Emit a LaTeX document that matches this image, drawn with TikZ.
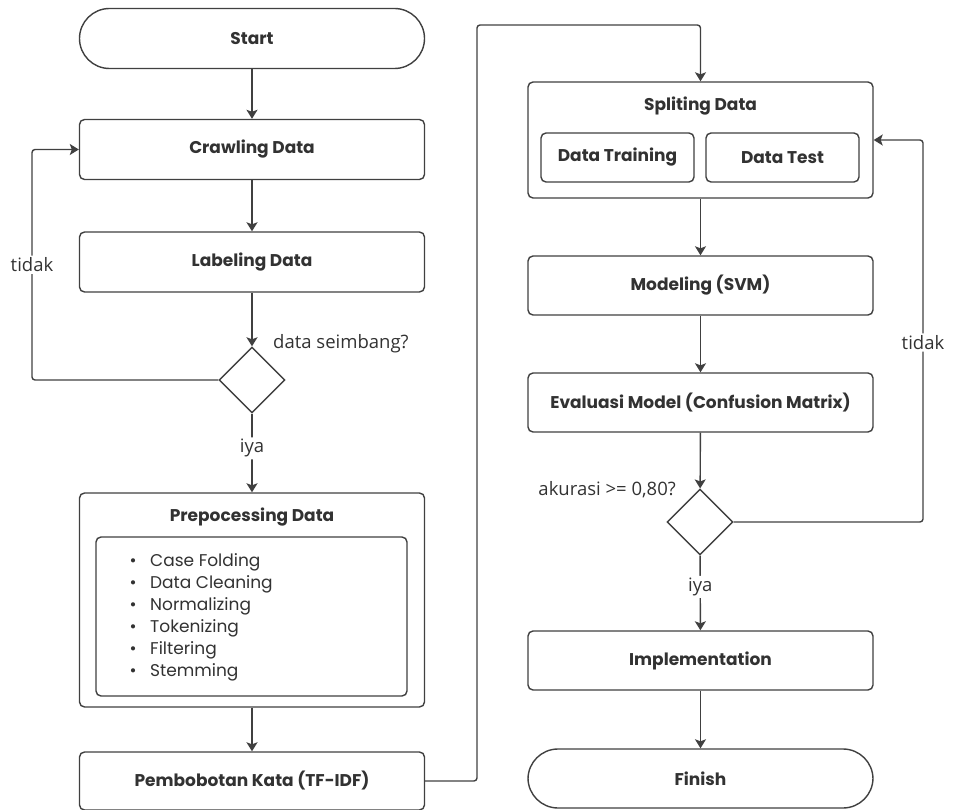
\documentclass[tikz,border=0pt]{standalone}
\usepackage{fontspec}
\setmainfont{Open Sans}
\newfontfamily\boxfont{Poppins}
\usetikzlibrary{
  arrows.meta,
  positioning,
  shapes.geometric,
}
\definecolor{cLine}{RGB}{64,64,64}
\definecolor{cText}{RGB}{50,50,50}
\newcommand{\itm}[1]{\makebox[10pt][c]{\textbullet}\hspace{12pt}#1}
\tikzset{
  % Process box
  box/.style={
    rectangle, rounded corners=5pt,
    draw=cLine, line width=1.4pt, fill=white,
    minimum width=345pt, minimum height=60pt,
    font=\boxfont\bfseries\fontsize{17}{20}\selectfont, text=cText,
    align=center, inner sep=0pt,
  },
  % Start / finish
  term/.style={
    box, rounded corners=30pt,
  },
  % Inner box
  subbox/.style={
    box, minimum width=153pt, minimum height=49pt,
  },
  % Box heading
  boxhead/.style={
    font=\boxfont\bfseries\fontsize{17}{20}\selectfont, text=cText,
  },
  % Decision
  decision/.style={
    diamond, aspect=1, draw=cLine, line width=1.4pt, fill=white,
    minimum width=66pt, minimum height=66pt, inner sep=0pt,
  },
  % Arrow
  arr/.style={-{Stealth[length=9pt, width=11pt, inset=2pt]}, draw=cLine, line width=1.4pt, rounded corners=3pt},
  % Edge label
  lab/.style={font=\fontsize{18.5}{22}\selectfont, text=cText, fill=white, inner sep=2pt},
}

\begin{document}
\begin{tikzpicture}[x=1pt, y=-1pt]
\useasboundingbox (0,0) rectangle (954,810);

% ── Left column ───────────────────────────────────────────────────────────────
\node[term]  (start) at (252,38.5) {Start};
\node[box]   (crawl) at (252,149.5) {Crawling Data};
\node[box]   (label) at (252,262) {Labeling Data};
\node[decision] (dec1) at (252,380) {};
\node[lab, fill=none, anchor=west] (q1) at (271,344) {data seimbang?};

% Preprocessing with nested list
\node[box, minimum height=214pt] (prep) at (252,600) {};
\node[boxhead] (preptitle) at (252,517) {Prepocessing Data};
\node[box, minimum width=311pt, minimum height=159pt] (steps) at (251.5,616.5) {};
\node[
  anchor=west, align=left, inner sep=0pt, text=cText,
  font=\boxfont\fontsize{17}{22}\selectfont,
] (list) at (128,617) {
  \itm{Case Folding}\\
  \itm{Data Cleaning}\\
  \itm{Normalizing}\\
  \itm{Tokenizing}\\
  \itm{Filtering}\\
  \itm{Stemming}
};

\node[box, minimum height=58pt] (tfidf) at (252,781) {Pembobotan Kata (TF-IDF)};

% ── Right column ──────────────────────────────────────────────────────────────
\node[box, minimum height=116pt] (split) at (700.5,140) {};
\node[boxhead] (splittitle) at (700.5,106) {Spliting Data};
\node[subbox] (train) at (617.5,157.5) {Data Training};
\node[subbox] (test)  at (782.5,157.5) {Data Test};

\node[box, minimum height=59pt] (model) at (700.5,285.5) {Modeling (SVM)};
\node[box, minimum height=59pt] (eval)  at (700.5,402.5) {Evaluasi Model (Confusion Matrix)};
\node[decision] (dec2) at (700,522) {};
\node[lab, fill=none, anchor=east] (q2) at (678,490) {akurasi >= 0,80?};
\node[box, minimum height=59pt] (impl)  at (700.5,660.5) {Implementation};
\node[term, minimum height=59pt] (finish) at (700.5,778.5) {Finish};

% ── Connectors ────────────────────────────────────────────────────────────────
\coordinate (backL) at (32,0);
\coordinate (jump)  at (477,25);
\coordinate (backR) at (923,0);

\draw[arr] (start) -- (crawl);
\draw[arr] (crawl) -- (label);
\draw[arr] (label) -- (dec1);
\draw[arr] (dec1) -- node[lab, pos=0.44]{iya} (prep);
\draw[arr] (dec1.west) -- (backL |- dec1.west)
  -- node[lab]{tidak} (backL |- crawl.west) -- (crawl.west);
\draw[arr] (prep) -- (tfidf);
\draw[arr] (tfidf.east) -- (jump |- tfidf.east) -- (jump) -- (jump -| split.north) -- (split.north);

\draw[arr] (split) -- (model);
\draw[arr] (model) -- (eval);
\draw[arr] (eval) -- (dec2);
\draw[arr] (dec2) -- node[lab, pos=0.42]{iya} (impl);
\draw[arr] (dec2.east) -- (backR |- dec2.east)
  -- node[lab, pos=0.47]{tidak} (backR |- split.east) -- (split.east);
\draw[arr] (impl) -- (finish);

\end{tikzpicture}
\end{document}
